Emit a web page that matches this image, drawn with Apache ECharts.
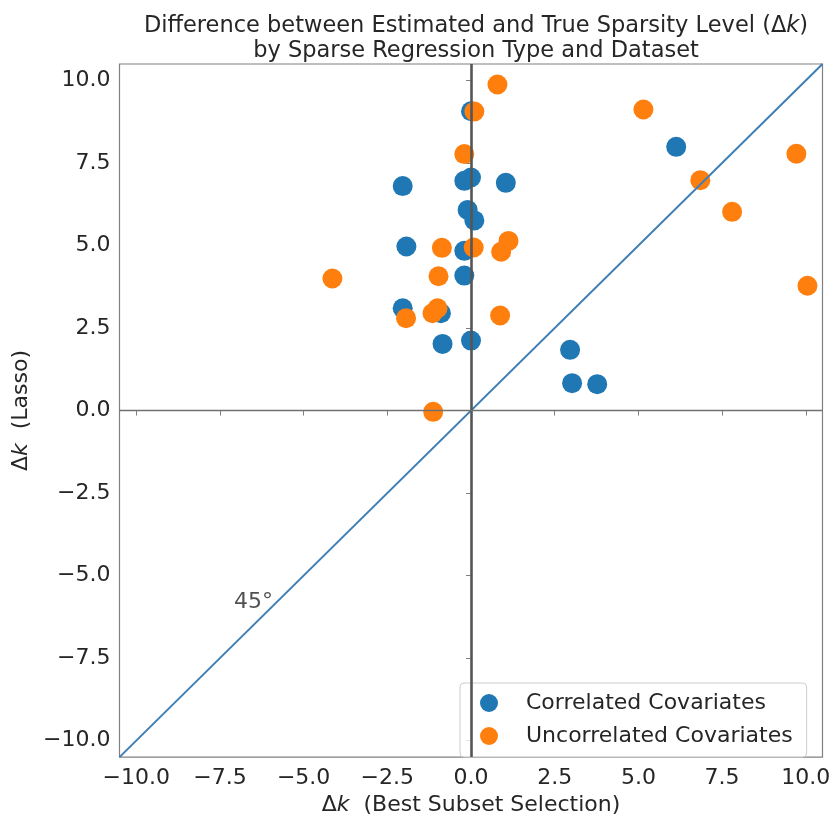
<!DOCTYPE html>
<html>
<head>
<meta charset="utf-8">
<script src="https://cdn.jsdelivr.net/npm/echarts@6/dist/echarts.min.js"></script>
<style>html,body{margin:0;padding:0;background:#fff;}#c{width:835px;height:821px;}</style>
</head>
<body>
<div id="c"></div>
<script>
// ---- data ----
const corrX = [0.0, -2.04, -0.2, 0.0, 1.04, -0.1, 0.1, -1.93, -0.2, -0.2, -2.04, -0.9, -0.85, 0.0, 2.96, 3.02, 3.77, 6.13];
const corrY = [9.07, 6.8, 6.96, 7.06, 6.9, 6.08, 5.76, 4.97, 4.84, 4.09, 3.1, 2.95, 2.02, 2.12, 1.84, 0.83, 0.8, 7.99];
const uncX = [0.79, 0.1, -0.2, -0.87, 0.08, 1.12, 0.9, -0.97, -1.94, -1.15, -1.0, 0.87, -1.13, -4.14, 5.15, 6.85, 7.8, 9.72, 10.05];
const uncY = [9.88, 9.06, 7.77, 4.93, 4.94, 5.14, 4.81, 4.07, 2.8, 2.95, 3.1, 2.88, -0.04, 4.0, 9.12, 6.98, 6.02, 7.78, 3.78];
const tickValues = [-10, -7.5, -5, -2.5, 0, 2.5, 5, 7.5, 10];
const axisRange = [-10.5, 10.5];
const diagonal = [[-10.5, -10.5], [10.5, 10.5]];
const angleLabel = { text: '45°', pos: [-6.5, -5.8] };
const seriesNames = ['Correlated Covariates', 'Uncorrelated Covariates'];

const FONT = 'DejaVu Sans';
const FS = 22;
const TXT = '#262626';
const fmt = v => (v < 0 ? '\u2212' : '') + Math.abs(v).toFixed(1);
const zip = (xs, ys) => xs.map((x, i) => [x, ys[i]]);

const chart = echarts.init(document.getElementById('c'), null, { renderer: 'canvas' });
const axisCommon = {
  type: 'value', min: axisRange[0], max: axisRange[1],
  axisLine: { show: false },
  splitLine: { show: false },
  axisTick: { show: true, inside: false, length: 5, customValues: tickValues, lineStyle: { color: '#808080' } },
  axisLabel: { customValues: tickValues, formatter: fmt, color: TXT, fontFamily: FONT, fontSize: FS },
  nameLocation: 'middle',
  nameTextStyle: {
    fontFamily: FONT, fontSize: FS, color: TXT,
    rich: {
      n: { fontFamily: FONT, fontSize: FS, color: TXT },
      i: { fontFamily: FONT, fontSize: FS, color: TXT, fontStyle: 'italic' }
    }
  }
};

const option = {
  backgroundColor: '#ffffff',
  animation: false,
  title: {
    text: '{n|Difference between Estimated and True Sparsity Level (Δ}{i|k}{n|)}\n{n|by Sparse Regression Type and Dataset}',
    left: 471, top: 9, textAlign: 'center',
    textStyle: {
      fontFamily: FONT, fontSize: 22.5, fontWeight: 'normal', color: TXT, lineHeight: 25,
      rich: {
        n: { fontFamily: FONT, fontSize: 22.5, color: TXT, lineHeight: 25 },
        i: { fontFamily: FONT, fontSize: 22.5, color: TXT, fontStyle: 'italic', lineHeight: 25 }
      }
    }
  },
  grid: { left: 119.5, right: 12.5, top: 64, bottom: 55, show: true, borderColor: '#808080', borderWidth: 1.2, backgroundColor: 'transparent' },
  xAxis: Object.assign({}, axisCommon, {
    name: '{n|Δ}{i|k}{n|  (Best Subset Selection)}', nameGap: 33,
    axisLabel: Object.assign({}, axisCommon.axisLabel, { margin: 10 })
  }),
  yAxis: Object.assign({}, axisCommon, {
    name: '{n|Δ}{i|k}{n|  (Lasso)}', nameGap: 86,
    axisLabel: Object.assign({}, axisCommon.axisLabel, { margin: 9 })
  }),
  legend: {
    data: seriesNames,
    orient: 'vertical', left: 460, top: 683,
    icon: 'circle', itemWidth: 20, itemHeight: 18, itemGap: 11,
    padding: [9, 14, 10, 20],
    borderColor: '#cccccc', borderWidth: 1, borderRadius: 4,
    backgroundColor: 'rgba(255,255,255,0.8)',
    textStyle: { fontFamily: FONT, fontSize: FS, color: TXT, padding: [0, 0, 0, 22] }
  },
  series: [
    {
      name: seriesNames[0], type: 'scatter', data: zip(corrX, corrY),
      symbolSize: 20, itemStyle: { color: '#1f77b4', opacity: 1 }, z: 2
    },
    {
      name: seriesNames[1], type: 'scatter', data: zip(uncX, uncY),
      symbolSize: 20, itemStyle: { color: '#ff7f0e', opacity: 1 }, z: 2
    },
    {
      name: 'diag', type: 'line', data: diagonal, symbol: 'none', silent: true,
      lineStyle: { color: '#3f7fb5', width: 2 }, z: 3,
      markLine: {
        silent: true, symbol: 'none', label: { show: false }, animation: false,
        data: [
          { xAxis: 0, lineStyle: { color: '#555555', width: 2.6, type: 'solid' } },
          { yAxis: 0, lineStyle: { color: '#707070', width: 1.3, type: 'solid' } }
        ]
      }
    },
    {
      name: 'annot', type: 'scatter', data: [angleLabel.pos], symbolSize: 0, silent: true, z: 4,
      label: { show: true, position: 'inside', formatter: angleLabel.text, fontFamily: FONT, fontSize: FS, color: TXT }
    }
  ]
};
chart.setOption(option);
</script>
</body>
</html>
